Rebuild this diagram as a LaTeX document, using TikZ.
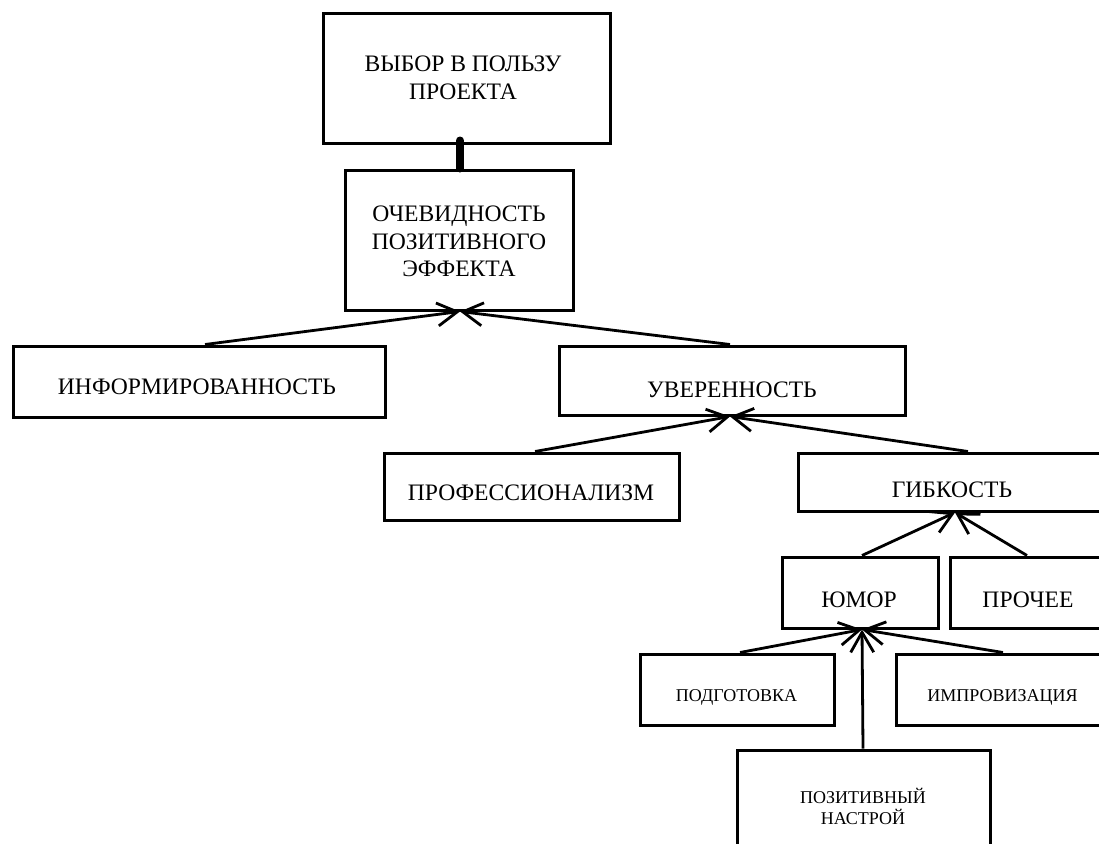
\documentclass[tikz,border=0pt]{standalone}
\usepackage{fontspec}
\setmainfont{Liberation Serif}
\usetikzlibrary{arrows.meta}
\begin{document}
\begin{tikzpicture}[x=1pt,y=-1pt,
  box/.style={draw=black, line width=3pt, rectangle, inner sep=0pt},
  txt/.style={font=\fontsize{23.6}{27.5}\selectfont, align=center, inner sep=0pt},
  stxt/.style={font=\fontsize{18}{21}\selectfont, align=center, inner sep=0pt},
  link/.style={line width=2.8pt, -{Straight Barb[length=20pt,width=23pt,line width=2.8pt]}},
  thick link/.style={line width=8pt, line cap=round}
]
\useasboundingbox (0,0) rectangle (1099,843);
\clip (0,0) rectangle (1099,843);
\fill[white] (0,0) rectangle (1099,843);

% boxes
\node[box, minimum width=287pt, minimum height=129pt] (b1) at (466.5,78.5) {};
\node[box, minimum width=228pt, minimum height=140pt] (b2) at (459,240) {};
\node[box, minimum width=372pt, minimum height=71pt] (b3) at (199,381.5) {};
\node[box, minimum width=346pt, minimum height=69pt] (b4) at (732,380.5) {};
\node[box, minimum width=295pt, minimum height=67pt] (b5) at (531.5,486.5) {};
\node[box, minimum width=314pt, minimum height=58pt] (b6) at (955,482) {};
\node[box, minimum width=156pt, minimum height=71pt] (b7) at (860,592.5) {};
\node[box, minimum width=156pt, minimum height=71pt] (b8) at (1028,592.5) {};
\node[box, minimum width=194pt, minimum height=71pt] (b9) at (737,689.5) {};
\node[box, minimum width=214pt, minimum height=71pt] (b10) at (1003,689.5) {};
\node[box, minimum width=253pt, minimum height=130pt] (b11) at (863.5,815) {};

% texts
\node[txt] (t1) at (463,78) {ВЫБОР В ПОЛЬЗУ\\ПРОЕКТА};
\node[txt] (t2) at (459,241.5) {ОЧЕВИДНОСТЬ\\ПОЗИТИВНОГО\\ЭФФЕКТА};
\node[txt] (t3) at (197,387) {ИНФОРМИРОВАННОСТЬ};
\node[txt] (t4) at (732,390) {УВЕРЕННОСТЬ};
\node[txt] (t5) at (531,493) {ПРОФЕССИОНАЛИЗМ};
\node[txt] (t6) at (952,490) {ГИБКОСТЬ};
\node[txt] (t7) at (859,600) {ЮМОР};
\node[txt] (t8) at (1028,600) {ПРОЧЕЕ};
\node[stxt] (t9) at (736.5,697) {ПОДГОТОВКА};
\node[stxt] (t10) at (1002.5,697) {ИМПРОВИЗАЦИЯ};
\node[stxt] (t11) at (863,806.5) {ПОЗИТИВНЫЙ\\НАСТРОЙ};

% connectors
\draw[thick link] ([xshift=1pt]b2.north) -- ([xshift=-6.5pt,yshift=4pt]b1.south);
\draw[link] ([xshift=6pt]b3.north) -- ([xshift=1pt]b2.south);
\draw[link] ([xshift=-2pt]b4.north) -- ([xshift=1pt]b2.south);
\draw[link] ([xshift=3.5pt]b5.north) -- ([xshift=-2pt]b4.south);
\draw[link] ([xshift=13pt]b6.north) -- ([xshift=-2pt]b4.south);
\draw[link] ([xshift=2pt]b7.north) -- (b6.south);
\draw[link] ([xshift=-1pt]b8.north) -- (b6.south);
\draw[link] ([xshift=3pt]b9.north) -- ([xshift=2pt]b7.south);
\draw[link] (b10.north) -- ([xshift=2pt]b7.south);
\draw[link] ([xshift=-0.5pt]b11.north) -- ([xshift=2pt]b7.south);
\end{tikzpicture}
\end{document}
